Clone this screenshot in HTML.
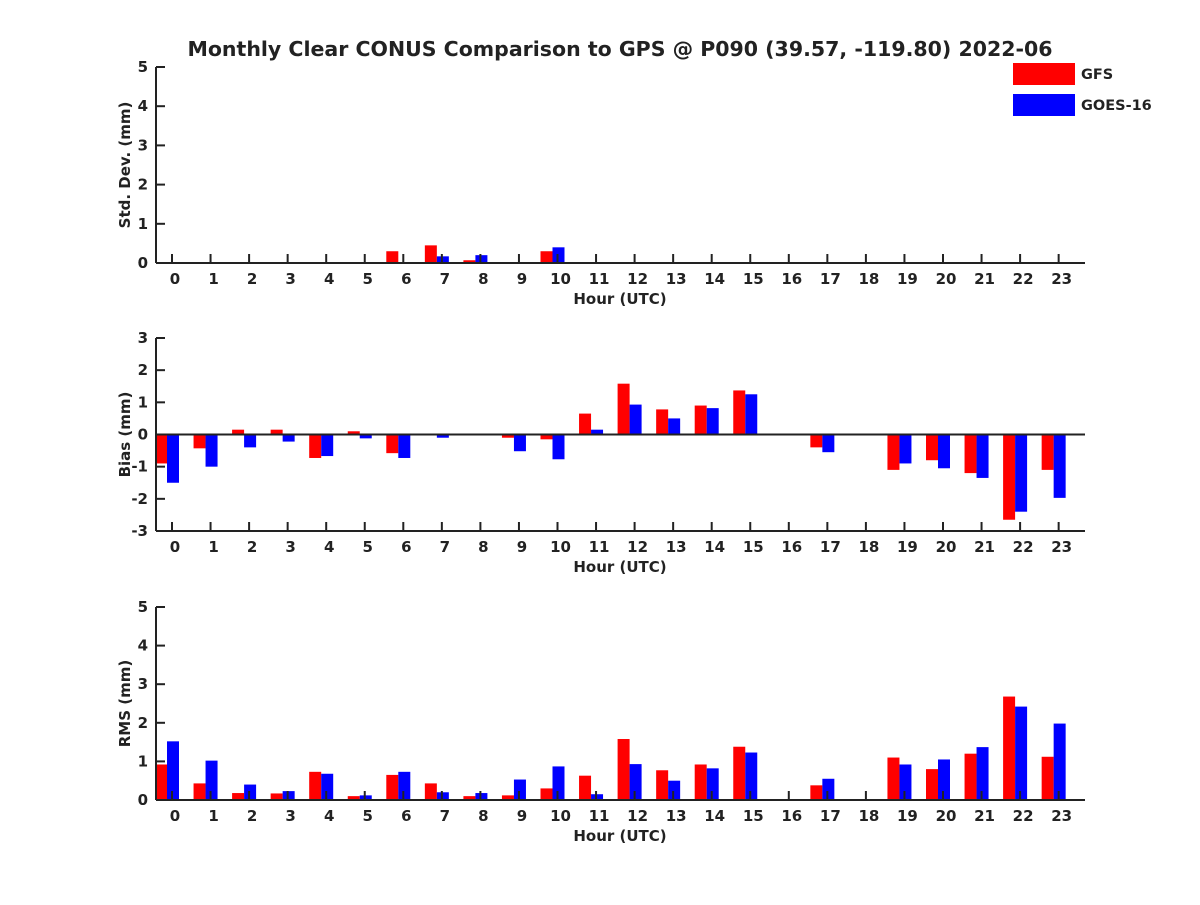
<!DOCTYPE html>
<html><head><meta charset="utf-8"><style>
body{margin:0;background:#fff}
svg text{font-family:"DejaVu Sans","Liberation Sans",sans-serif;font-weight:bold;fill:#222}
</style></head><body>
<svg id="c" width="1200" height="900" xmlns="http://www.w3.org/2000/svg">
<text x="620" y="56" font-size="20.5" text-anchor="middle">Monthly Clear CONUS Comparison to GPS @ P090 (39.57, -119.80) 2022-06</text>
<g>
<rect x="1013" y="63" width="62" height="22" fill="#ff0000"/>
<text x="1081" y="79" font-size="14.5">GFS</text>
<rect x="1013" y="94" width="62" height="22" fill="#0000ff"/>
<text x="1081" y="110" font-size="14.5">GOES-16</text>
</g>
</svg>
<script>
const hours=[0,1,2,3,4,5,6,7,8,9,10,11,12,13,14,15,16,17,18,19,20,21,22,23];
const stdGFS=[0,0,0,0,0,0,0.3,0.45,0.07,0,0.3,0,0,0,0,0,0,0,0,0,0,0,0,0];
const stdGOES=[0,0,0,0,0,0,0,0.17,0.2,0,0.4,0,0,0,0,0,0,0,0,0,0,0,0,0];
const biasGFS=[-0.9,-0.43,0.15,0.15,-0.73,0.1,-0.58,-0.03,-0.03,-0.1,-0.15,0.65,1.58,0.78,0.9,1.37,0,-0.4,0,-1.1,-0.8,-1.2,-2.65,-1.1];
const biasGOES=[-1.5,-1.0,-0.4,-0.22,-0.67,-0.12,-0.73,-0.1,0.02,-0.52,-0.77,0.15,0.93,0.5,0.82,1.25,0,-0.55,0,-0.9,-1.05,-1.35,-2.4,-1.97];
const rmsGFS=[0.92,0.43,0.18,0.17,0.73,0.1,0.65,0.43,0.1,0.12,0.3,0.63,1.58,0.77,0.92,1.38,0,0.38,0,1.1,0.8,1.2,2.68,1.12];
const rmsGOES=[1.52,1.02,0.4,0.23,0.68,0.12,0.73,0.2,0.18,0.53,0.87,0.15,0.93,0.5,0.82,1.23,0,0.55,0,0.92,1.05,1.37,2.42,1.98];
const stdTicks=[0,1,2,3,4,5];
const biasTicks=[-3,-2,-1,0,1,2,3];
const rmsTicks=[0,1,2,3,4,5];
const svg=document.getElementById('c');
const NS='http://www.w3.org/2000/svg';
function mk(t,a,name){const e=document.createElementNS(NS,t);for(const k in a)e.setAttribute(k,a[k]);


svg.appendChild(e);return e;}
const L=156,R=1085;
const xs=h=>172+h*38.55;
function panel(id,top,bot,ymin,ymax,ticks,a,b,ylabel,zeroLine){
  const ys=v=>bot-(v-ymin)/(ymax-ymin)*(bot-top);
  hours.forEach((h,i)=>{
    const c=xs(h);
    const v1=a[i],v2=b[i];
    if(v1!==0)mk('rect',{x:c-17,y:Math.min(ys(v1),ys(0)),width:12,height:Math.abs(ys(v1)-ys(0)),fill:'#ff0000'},id+'-gfs-bar-'+h);
    if(v2!==0)mk('rect',{x:c-5,y:Math.min(ys(v2),ys(0)),width:12,height:Math.abs(ys(v2)-ys(0)),fill:'#0000ff'},id+'-goes-bar-'+h);
    mk('line',{x1:c,x2:c,y1:bot,y2:bot-9,stroke:'#222','stroke-width':2},id+'-x-tick');
    const t=mk('text',{x:c+3,y:bot+21,'font-size':15,'text-anchor':'middle'},id+'-x-tick-label');t.textContent=h;
  });
  ticks.forEach(v=>{
    mk('line',{x1:L,x2:L+9,y1:ys(v),y2:ys(v),stroke:'#222','stroke-width':2},id+'-y-tick');
    const t=mk('text',{x:L-8,y:ys(v)+5,'font-size':15,'text-anchor':'end'},id+'-y-tick-label');t.textContent=v;
  });
  if(zeroLine)mk('line',{x1:L,x2:R,y1:ys(0),y2:ys(0),stroke:'#222','stroke-width':2},id+'-zero-line');
  mk('line',{x1:L,x2:L,y1:top,y2:bot,stroke:'#222','stroke-width':2},id+'-y-axis');
  mk('line',{x1:L,x2:R,y1:bot,y2:bot,stroke:'#222','stroke-width':2},id+'-x-axis');
  const xl=mk('text',{x:620,y:bot+41,'font-size':15,'text-anchor':'middle'},id+'-x-axis-title');xl.textContent='Hour (UTC)';
  const my=(top+bot)/2;
  const yl=mk('text',{x:130,y:my,'font-size':15,'text-anchor':'middle',transform:'rotate(-90 130 '+my+')'},id+'-y-axis-title');yl.textContent=ylabel;
}
panel('std',67,263,0,5,stdTicks,stdGFS,stdGOES,'Std. Dev. (mm)',false);
panel('bias',338,531,-3,3,biasTicks,biasGFS,biasGOES,'Bias (mm)',true);
panel('rms',607,800,0,5,rmsTicks,rmsGFS,rmsGOES,'RMS (mm)',false);
</script>
</body></html>
